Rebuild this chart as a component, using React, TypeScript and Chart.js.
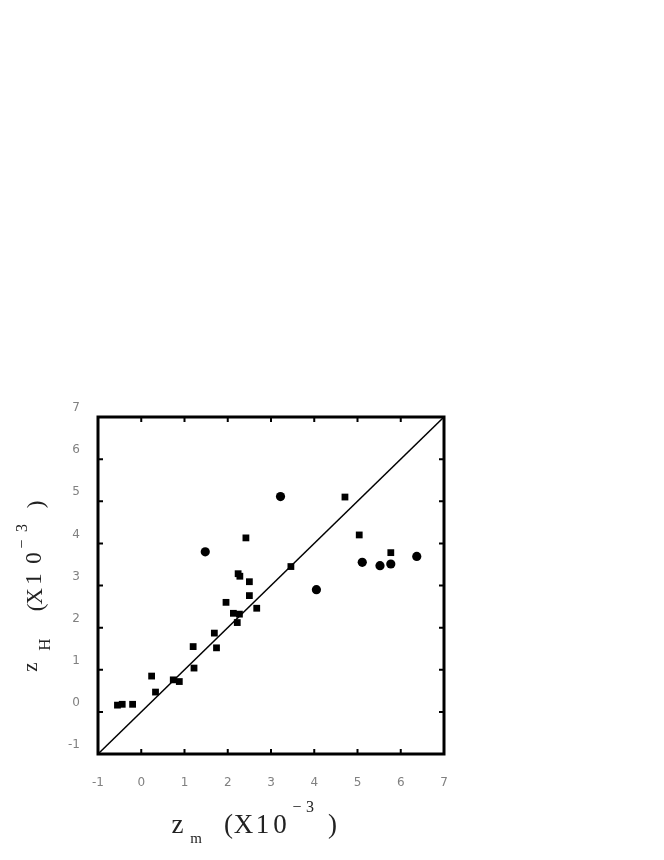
import React, { useEffect, useRef } from "react";
import { Chart, registerables } from "chart.js";

Chart.register(...registerables);

const axisMin = -1;
const axisMax = 7;
const tickValues = [-1, 0, 1, 2, 3, 4, 5, 6, 7];
const tickLabels = ["-1", "0", "1", "2", "3", "4", "5", "6", "7"];

const squareX = [2.42, 2.24, 2.28, 4.71, 5.04, 5.77, 3.46, 2.5, 2.5, 1.96, 2.13, 2.27, 2.22, 2.67, 1.69, 1.74, 1.2, 1.22, 0.24, 0.33, 0.74, 0.88, -0.55, -0.44, -0.2];
const squareY = [4.13, 3.28, 3.22, 5.1, 4.2, 3.78, 3.45, 3.09, 2.76, 2.6, 2.34, 2.32, 2.12, 2.46, 1.87, 1.52, 1.55, 1.04, 0.85, 0.47, 0.76, 0.72, 0.16, 0.18, 0.18];

const circleX = [1.48, 3.22, 4.05, 5.11, 5.52, 5.77, 6.37];
const circleY = [3.8, 5.11, 2.9, 3.55, 3.47, 3.51, 3.69];

const lineX = [-1, 7];
const lineY = [-1, 7];

const OFF = 8;

const framePlugin = {
  id: "frame",
  afterDatasetsDraw(chart: any) {
    const ctx = chart.ctx as CanvasRenderingContext2D;
    const { left, right, top, bottom } = chart.chartArea;
    const xs = chart.scales.x;
    const ys = chart.scales.y;
    ctx.save();
    ctx.strokeStyle = "#000";
    ctx.lineWidth = 2;
    const tl = 5;
    tickValues.forEach((v) => {
      const px = xs.getPixelForValue(v);
      const py = ys.getPixelForValue(v);
      ctx.beginPath();
      ctx.moveTo(px, bottom);
      ctx.lineTo(px, bottom - tl);
      ctx.moveTo(px, top);
      ctx.lineTo(px, top + tl);
      ctx.moveTo(left, py);
      ctx.lineTo(left + tl, py);
      ctx.moveTo(right, py);
      ctx.lineTo(right - tl, py);
      ctx.stroke();
    });
    ctx.lineWidth = 3;
    ctx.strokeRect(left, top, right - left, bottom - top);

    // X title
    ctx.fillStyle = "#222";
    ctx.textAlign = "center";
    ctx.textBaseline = "alphabetic";
    const put = (t: string, px: number, py: number, size: number) => {
      ctx.font = `${size}px "Liberation Serif", serif`;
      ctx.fillText(t, px - OFF, py - OFF);
    };
    put("z", 177.5, 833, 27);
    put("m", 196, 843, 15);
    put("(", 228.5, 833, 27);
    put("X", 243.5, 833, 27);
    put("1", 262.5, 833, 27);
    put("0", 280, 833, 27);
    put("\u2212", 297, 812, 16);
    put("3", 310, 812, 16);
    put(")", 332.5, 833, 27);

    // Y title (rotated)
    const putR = (t: string, bx: number, cy: number, size: number) => {
      ctx.save();
      ctx.translate(bx - OFF, cy - OFF);
      ctx.rotate(-Math.PI / 2);
      ctx.font = `${size}px "Liberation Serif", serif`;
      ctx.fillText(t, 0, 0);
      ctx.restore();
    };
    putR("z", 37, 667, 21);
    putR("H", 50, 644.5, 17);
    putR("(", 43, 607.5, 23);
    putR("X", 42, 596.5, 23);
    putR("1", 41, 579, 23);
    putR("0", 41, 558, 23);
    putR("\u2212", 27, 544, 16);
    putR("3", 27, 528, 16);
    putR(")", 43, 504.5, 23);
    ctx.restore();
  },
};

export default function App() {
  const ref = useRef<HTMLCanvasElement | null>(null);
  useEffect(() => {
    if (!ref.current) return;
    const chart = new Chart(ref.current, {
      type: "scatter",
      data: {
        datasets: [
          {
            label: "line",
            data: lineX.map((x, i) => ({ x, y: lineY[i] })),
            showLine: true,
            borderColor: "#000",
            borderWidth: 1.5,
            pointRadius: 0,
            order: 3,
          },
          {
            label: "squares",
            data: squareX.map((x, i) => ({ x, y: squareY[i] })),
            pointStyle: "rect",
            pointRadius: 4.8,
            backgroundColor: "#000",
            borderColor: "#000",
            borderWidth: 0,
            order: 2,
          },
          {
            label: "circles",
            data: circleX.map((x, i) => ({ x, y: circleY[i] })),
            pointStyle: "circle",
            pointRadius: 4.6,
            backgroundColor: "#000",
            borderColor: "#000",
            borderWidth: 0,
            order: 1,
          },
        ],
      },
      options: {
        animation: false,
        responsive: false,
        events: [],
        layout: { padding: { left: 0, right: 212, top: 409, bottom: 0 } },
        plugins: { legend: { display: false }, tooltip: { enabled: false } },
        scales: {
          x: {
            type: "linear",
            min: axisMin,
            max: axisMax,
            afterFit: (s: any) => {
              s.height = 98;
            },
            afterBuildTicks: (s: any) => {
              s.ticks = tickValues.map((v) => ({ value: v }));
            },
            grid: { display: false, drawTicks: false },
            border: { display: false },
            ticks: {
              padding: 22,
              color: "#808080",
              font: { family: "DejaVu Sans", size: 12 },
              maxRotation: 0,
              callback: (v: any) => tickLabels[tickValues.indexOf(Number(v))] ?? "",
            },
          },
          y: {
            type: "linear",
            min: axisMin,
            max: axisMax,
            afterFit: (s: any) => {
              s.width = 90;
            },
            afterBuildTicks: (s: any) => {
              s.ticks = tickValues.map((v) => ({ value: v }));
            },
            grid: { display: false, drawTicks: false },
            border: { display: false },
            ticks: {
              padding: 18,
              color: "#808080",
              font: { family: "DejaVu Sans", size: 12 },
              labelOffset: -9,
              callback: (v: any) => tickLabels[tickValues.indexOf(Number(v))] ?? "",
            },
          },
        },
      },
      plugins: [framePlugin],
    });
    return () => chart.destroy();
  }, []);
  return (
    <div style={{ width: 648, height: 844 }}>
      <canvas ref={ref} width={648} height={844} style={{ display: "block", width: 648, height: 844 }} />
    </div>
  );
}
